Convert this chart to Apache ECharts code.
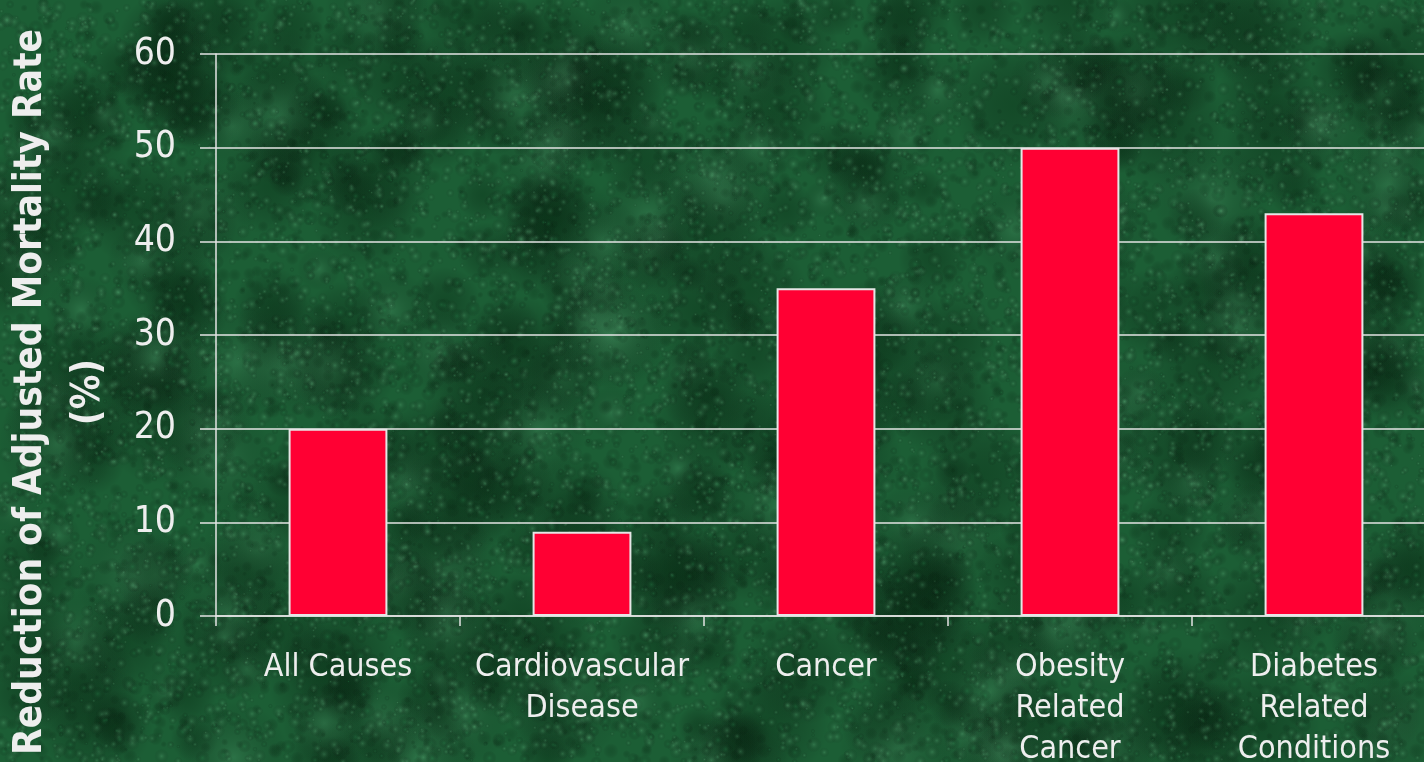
<!DOCTYPE html>
<html>
<head>
<meta charset="utf-8">
<script src="https://cdn.jsdelivr.net/npm/echarts@6/dist/echarts.min.js"></script>
<style>
  html, body { margin: 0; padding: 0; background: #1c5e35; }
  #chart { width: 1424px; height: 762px; }
</style>
</head>
<body>
<div id="chart"></div>
<script>
// Mortality-rate reduction by cause of death
const categories = [
  'All Causes',
  'Cardiovascular\nDisease',
  'Cancer',
  'Obesity\nRelated\nCancer',
  'Diabetes\nRelated\nConditions'
];
const reductionPct = [20, 9, 35, 50, 43];
const yTicks = [0, 10, 20, 30, 40, 50, 60];
const yTitle = 'Reduction of Adjusted Mortality Rate\n(%)';

// Green marble backdrop painted on an offscreen canvas
function marbleTexture(w, h) {
  const c = document.createElement('canvas');
  c.width = w; c.height = h;
  const g = c.getContext('2d');
  g.fillStyle = '#1c5e35';
  g.fillRect(0, 0, w, h);
  // deterministic hash for blotch placement
  const hash = (n) => {
    const s = Math.sin(n * 127.1 + 311.7) * 43758.5453;
    return s - Math.floor(s);
  };
  const blot = (x, y, r, col) => {
    const grd = g.createRadialGradient(x, y, 0, x, y, r);
    grd.addColorStop(0, col);
    grd.addColorStop(1, 'rgba(0,0,0,0)');
    g.fillStyle = grd;
    g.beginPath();
    g.arc(x, y, r, 0, Math.PI * 2);
    g.fill();
  };
  // broad dark and light clouds
  for (let i = 0; i < 460; i++) {
    const x = hash(i * 3.1) * w;
    const y = hash(i * 7.7 + 1.3) * h;
    const r = 18 + hash(i * 5.3 + 2.9) * 45;
    const col = i % 3 === 0 ? 'rgba(80,160,110,0.30)' : 'rgba(6,42,18,0.38)';
    blot(x, y, r, col);
  }
  // fine mottled grain
  for (let i = 0; i < 14000; i++) {
    const x = hash(i * 1.37 + 8.1) * w;
    const y = hash(i * 2.91 + 3.7) * h;
    const r = 2 + hash(i * 4.13 + 0.7) * 6;
    const t = hash(i * 6.71 + 5.5);
    const col = t < 0.5 ? 'rgba(95,180,125,0.30)' : (t < 0.8 ? 'rgba(8,48,22,0.25)' : 'rgba(35,120,68,0.40)');
    blot(x, y, r, col);
  }
  return c;
}

const chart = echarts.init(document.getElementById('chart'), null, { renderer: 'canvas' });

const FONT = '"DejaVu Sans Condensed", "DejaVu Sans", sans-serif';
const TEXT = '#eeeeee';
const LINE = '#e4e4e4';

chart.setOption({
  backgroundColor: { image: marbleTexture(1424, 762), repeat: 'no-repeat' },
  animation: false,
  grid: { left: 216, top: 54, bottom: 146, right: -12, outerBoundsMode: 'none', containLabel: false },
  xAxis: {
    type: 'category',
    data: categories,
    boundaryGap: true,
    axisLine: { show: true, lineStyle: { color: LINE, width: 1.5 } },
    axisTick: { show: true, length: 10, alignWithLabel: false, lineStyle: { color: LINE, width: 1.5 } },
    axisLabel: {
      interval: 0,
      margin: 31,
      color: TEXT,
      fontFamily: FONT,
      fontSize: 32,
      lineHeight: 41
    },
    splitLine: { show: false }
  },
  yAxis: {
    type: 'value',
    min: yTicks[0],
    max: yTicks[yTicks.length - 1],
    interval: yTicks[1] - yTicks[0],
    axisLine: { show: true, lineStyle: { color: LINE, width: 1.5 } },
    axisTick: { show: true, inside: false, length: 16, lineStyle: { color: LINE, width: 1.5 } },
    axisLabel: {
      margin: 40,
      color: TEXT,
      fontFamily: FONT,
      fontSize: 37
    },
    splitLine: { show: true, lineStyle: { color: LINE, width: 1.5 } }
  },
  graphic: [{
    type: 'text',
    x: 60,
    y: 392,
    rotation: Math.PI / 2,
    style: {
      text: yTitle,
      fill: TEXT,
      font: 'bold 38.5px ' + FONT,
      align: 'center',
      verticalAlign: 'middle',
      lineHeight: 58
    }
  }],
  series: [{
    type: 'bar',
    data: reductionPct,
    barWidth: '40.5%',
    itemStyle: { color: '#ff0033', borderColor: '#e6e6e6', borderWidth: 2 }
  }]
});
</script>
</body>
</html>
